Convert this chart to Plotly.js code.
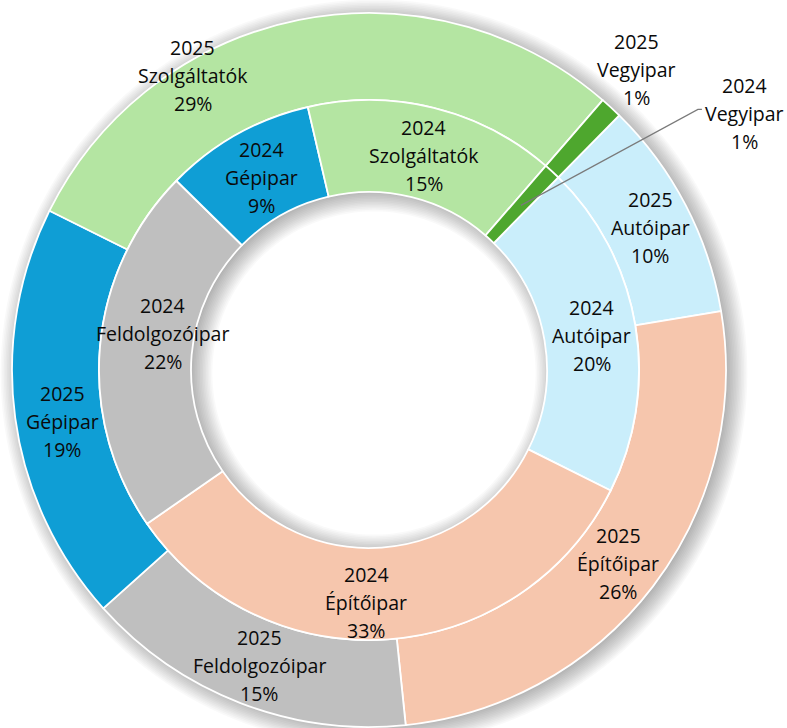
<!DOCTYPE html>
<html>
<head>
<meta charset="utf-8">
<script src="https://cdn.plot.ly/plotly-3.0.1.min.js"></script>
<style>
  html, body { margin: 0; padding: 0; background: #ffffff; }
  #chart { width: 787px; height: 728px; }
</style>
</head>
<body>
<div id="chart"></div>
<script>
// ---------- data ----------
const categories = ['Autóipar', 'Építőipar', 'Feldolgozóipar', 'Gépipar', 'Szolgáltatók', 'Vegyipar'];
const yearInner = '2024';
const yearOuter = '2025';
const values2024 = [20, 33, 22, 9, 15, 1];
const values2025 = [10, 26, 15, 19, 29, 1];

// ---------- styles / layout ----------
const colors = ['#CAEEFB', '#F6C6AD', '#BFBFBF', '#0F9ED5', '#B4E5A2', '#4EA72E'];
const W = 787, H = 728;
const CX = 369, CY = 370;
const R_OUT = 357, R_MID = 270, R_HOLE = 178;
const ROT = 44.5;
const FONT = { family: '"Open Sans", sans-serif', size: 19.5, color: '#0a0a0a' };
const LINE_GAP = 28;
// label nudges (px) from the slice mid point, per category
const nudgeOuter = [[3, 2], [0, 4], [3, 3], [4, 9], [-115, 13], [55, -70]];
const nudgeInner = [[2, 2], [-19, 9], [17, -17], [2, 3], [1, 3], [224, -92]];

const px = x => x / W;
const py = y => 1 - y / H;

function midAngles(vals) {
  const tot = vals.reduce((a, b) => a + b, 0);
  let acc = 0;
  return vals.map(v => { const a = ROT + (acc + v / 2) / tot * 360; acc += v; return a; });
}
function pct(vals) {
  const tot = vals.reduce((a, b) => a + b, 0);
  return vals.map(v => Math.round(v / tot * 100) + '%');
}
function pt(angDeg, r) {
  const t = angDeg * Math.PI / 180;
  return [CX + r * Math.sin(t), CY - r * Math.cos(t)];
}
function circlePath(cx, cy, r, n) {
  let s = '';
  for (let i = 0; i < n; i++) {
    const t = i / n * 2 * Math.PI;
    const x = cx + r * Math.sin(t), y = cy - r * Math.cos(t);
    s += (i ? 'L' : 'M') + px(x).toFixed(5) + ',' + py(y).toFixed(5);
  }
  return s + 'Z';
}

const outer = {
  type: 'pie', values: values2025, labels: categories, sort: false,
  direction: 'clockwise', rotation: ROT, hole: R_MID / R_OUT,
  domain: { x: [px(CX - R_OUT), px(CX + R_OUT)], y: [py(CY + R_OUT), py(CY - R_OUT)] },
  marker: { colors: colors, line: { color: '#ffffff', width: 1.8 } },
  textinfo: 'none', hoverinfo: 'label+percent', showlegend: false
};
const inner = {
  type: 'pie', values: values2024, labels: categories, sort: false,
  direction: 'clockwise', rotation: ROT, hole: R_HOLE / R_MID,
  domain: { x: [px(CX - R_MID), px(CX + R_MID)], y: [py(CY + R_MID), py(CY - R_MID)] },
  marker: { colors: colors, line: { color: '#ffffff', width: 1.8 } },
  textinfo: 'none', hoverinfo: 'label+percent', showlegend: false
};

// labels
const annotations = [];
function addLabels(vals, year, rMid, nudges) {
  const mids = midAngles(vals);
  const p = pct(vals);
  const centers = [];
  categories.forEach((c, i) => {
    const q = pt(mids[i], rMid);
    const X = q[0] + nudges[i][0], Y = q[1] + nudges[i][1];
    centers.push([X, Y]);
    [year, c, p[i]].forEach((t, j) => {
      annotations.push({
        xref: 'paper', yref: 'paper', x: px(X), y: py(Y + (j - 1) * LINE_GAP),
        text: t, showarrow: false, font: FONT, xanchor: 'center', yanchor: 'middle'
      });
    });
  });
  return centers;
}
addLabels(values2025, yearOuter, (R_OUT + R_MID) / 2, nudgeOuter);
const innerCenters = addLabels(values2024, yearInner, (R_MID + R_HOLE) / 2, nudgeInner);

// shapes: soft shadow + leader line
const shapes = [];
const N = 14, SDX = 5, SDY = 3;
for (let k = 0; k < N; k++) {
  const s = -4 + k * (22 / N);
  shapes.push({
    type: 'path', xref: 'paper', yref: 'paper', layer: 'below',
    path: circlePath(CX + SDX, CY + SDY, R_OUT + s, 180) + circlePath(CX + SDX, CY + SDY, Math.max(R_HOLE - s, 1), 180),
    fillrule: 'evenodd', fillcolor: 'rgba(0,0,0,0.022)', line: { width: 0 }
  });
}
const vi = categories.indexOf('Vegyipar');
const slicePt = pt(midAngles(values2024)[vi], (R_MID + R_HOLE) / 2);
const lc = innerCenters[vi];
shapes.push({
  type: 'path', xref: 'paper', yref: 'paper', layer: 'above',
  path: 'M' + px(lc[0] - 43) + ',' + py(lc[1] - 4) + 'L' + px(lc[0] - 47) + ',' + py(lc[1] - 4) +
        'L' + px(slicePt[0]) + ',' + py(slicePt[1]),
  line: { color: '#7a7a7a', width: 1.2 }
});

const layout = {
  width: W, height: H, margin: { l: 0, r: 0, t: 0, b: 0 },
  paper_bgcolor: '#ffffff', plot_bgcolor: '#ffffff',
  showlegend: false, annotations: annotations, shapes: shapes
};

Plotly.newPlot('chart', [outer, inner], layout, { displayModeBar: false, staticPlot: true });
</script>
</body>
</html>
